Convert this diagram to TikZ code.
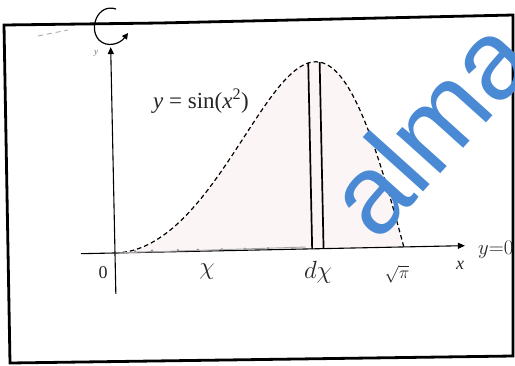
\documentclass[tikz,border=0pt]{standalone}
\usepackage{fontspec}
\setmainfont{Liberation Serif}
\newfontfamily\wmfont{Liberation Sans}
\usetikzlibrary{arrows.meta}
\definecolor{wmblue}{RGB}{74,137,212}
\definecolor{pinkfill}{RGB}{252,245,246}
\tikzset{
  frameline/.style={line width=2.8pt, line join=miter},
  axisline/.style={line width=1.1pt, -{Triangle[length=7pt,width=6pt]}},
  curveline/.style={line width=1.2pt, dash pattern=on 4.5pt off 3pt},
  stripline/.style={line width=1.7pt},
  lbl/.style={inner sep=0pt, text=black!85},
}
\begin{document}
\begin{tikzpicture}[x=1pt,y=-1pt]
\useasboundingbox (0,0) rectangle (515,365);
\fill[white] (0,0) rectangle (515,365);
% frame
\draw[frameline] (4,25) -- (160,23) -- (513,15) -- (513,356) -- (10,363) -- cycle;
% faint scribbles top-left
\draw[black!35, line width=0.8pt, dash pattern=on 5pt off 4pt] (38,36) -- (68,30);
\node[lbl, text=black!55, font=\fontsize{9}{9}\selectfont\itshape] (ylab) at (96,53) {y};
% plot
\begin{scope}[rotate around={1.2:(115,253)}]
  \fill[pinkfill] (115,253) -- plot[domain=0:1.7725, samples=80, smooth] ({115+163*\x},{253-187*sin(deg(\x*\x))}) -- cycle;
  \coordinate (O) at (115,253);
  \coordinate (xl) at (81,253);
  \coordinate (xr) at (465,253);
  \coordinate (yb) at (115,294);
  \coordinate (yt) at (115,47);
  \draw[line width=1.1pt] (xl) -- (O);
  \draw[axisline] (O) -- (xr);
  \draw[line width=1.1pt] (yb) -- (O);
  \draw[axisline] (O) -- (yt);
  \draw[curveline] plot[domain=0:1.7725, samples=80, smooth] ({115+163*\x},{253-187*sin(deg(\x*\x))});
  \coordinate (s1b) at ({115+163*1.21},253);
  \coordinate (s1t) at ({115+163*1.21},{253-187*sin(deg(1.21*1.21))});
  \coordinate (s2b) at ({115+163*1.28},253);
  \coordinate (s2t) at ({115+163*1.28},{253-187*sin(deg(1.28*1.28))});
  \draw[stripline] (s1b) -- (s1t);
  \draw[stripline] (s2b) -- (s2t);
  \foreach \p in {135,152,178,198,222,245,268,292}
    \fill[black!45] (\p,251.5) circle (1.3pt);
  \draw[black!35, line width=0.9pt] (O) -- (306,251);
\end{scope}
% loop at the top of the y axis
\draw[line width=1.2pt, -{Triangle[length=6pt,width=6pt]}] (116,9) .. controls (98,3) and (88,28) .. (99,40) .. controls (107,48) and (120,44) .. (128,33);
% labels
\node[lbl, font=\fontsize{23}{23}\selectfont] (lblcurve) at (201,101) {\textit{y} = sin(\textit{x}\textsuperscript{2})};
\node[lbl, font=\fontsize{18}{18}\selectfont] (lbl0) at (103,273) {0};
\node[lbl, font=\fontsize{34}{34}\selectfont] (lblx) at (207,272) {$\chi$};
\node[lbl, font=\fontsize{32}{32}\selectfont] (lbldx) at (318,272) {$d\chi$};
\node[lbl, font=\fontsize{18}{18}\selectfont] (lblpi) at (397,274) {$\sqrt{\pi}$};
\node[lbl, font=\fontsize{18}{18}\selectfont\itshape] (lblxx) at (460,265) {x};
\node[lbl, font=\fontsize{22}{22}\selectfont, anchor=west] (lbly0) at (478,250) {$y{=}0$};
% watermark
\begin{scope}
  \clip (0,0) rectangle (515,365);
  \node[inner sep=0pt, anchor=base west, rotate=48, text=wmblue, font=\wmfont\fontsize{112}{112}\selectfont] (wm) at (377,244) {alma};
\end{scope}
\end{tikzpicture}
\end{document}
